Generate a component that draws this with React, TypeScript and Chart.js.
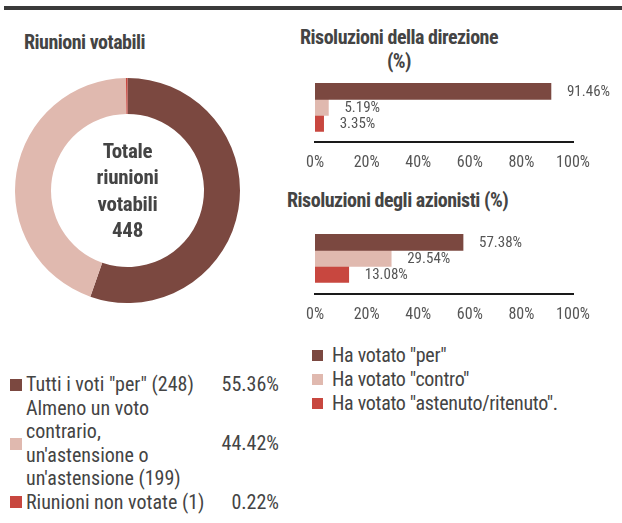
import React, { useEffect, useRef } from "react";
import { Chart, registerables } from "chart.js";

Chart.register(...registerables);

const FONT = '"Roboto Condensed", "Liberation Sans", sans-serif';
const TEXT = "#444444";

const colors = ["#7B4840", "#E0B9AF", "#C8473F"];

// Doughnut: "Riunioni votabili"
const donutTitle = "Riunioni votabili";
const donutCenterLines = ["Totale", "riunioni", "votabili", "448"];
const donutLegendLines: string[][] = [
  ['Tutti i voti "per" (248)'],
  ["Almeno un voto", "contrario,", "un'astensione o", "un'astensione (199)"],
  ["Riunioni non votate (1)"],
];
const donutValues = [55.36, 44.42, 0.22];

// Bar charts
const voteLabels = ['Ha votato "per"', 'Ha votato "contro"', 'Ha votato "astenuto/ritenuto".'];
const directionTitle = ["Risoluzioni della direzione", "(%)"];
const directionValues = [91.46, 5.19, 3.35];
const shareholderTitle = "Risoluzioni degli azionisti (%)";
const shareholderValues = [57.38, 29.54, 13.08];
const xTickLabels = ["0%", "20%", "40%", "60%", "80%", "100%"];

const valueLabelPlugin = {
  id: "valueLabels",
  afterDatasetsDraw(chart: any) {
    const ctx = chart.ctx;
    ctx.save();
    ctx.font = `15px ${FONT}`;
    ctx.fillStyle = "#555555";
    ctx.textAlign = "left";
    ctx.textBaseline = "middle";
    chart.data.datasets.forEach((ds: any, i: number) => {
      const meta = chart.getDatasetMeta(i);
      meta.data.forEach((bar: any, j: number) => {
        const v = ds.data[j];
        ctx.fillText(v.toFixed(2) + "%", bar.x + 16, bar.y + 1);
      });
    });
    ctx.restore();
  },
};

function BarChart({ values, height }: { values: number[]; height: number }) {
  const ref = useRef<HTMLCanvasElement>(null);
  useEffect(() => {
    const chart = new Chart(ref.current!, {
      type: "bar",
      data: {
        labels: [""],
        datasets: values.map((v, i) => ({
          label: voteLabels[i],
          data: [v],
          backgroundColor: colors[i],
          borderWidth: 0,
          barThickness: 16,
        })),
      },
      options: {
        indexAxis: "y",
        responsive: false,
        maintainAspectRatio: false,
        animation: false,
        layout: { padding: { left: 25, right: 49, top: 3, bottom: 0 } },
        plugins: { legend: { display: false }, tooltip: { enabled: false } },
        scales: {
          x: {
            min: 0,
            max: 100,
            ticks: {
              stepSize: 20,
              autoSkip: false,
              maxRotation: 0,
              padding: 12,
              color: "#555555",
              font: { size: 16, family: FONT },
              callback: (_v: any, i: number) => xTickLabels[i],
            },
            grid: { display: false, drawTicks: false },
            border: { display: true, color: "#1a1a1a", width: 2 },
          },
          y: { display: false },
        },
      } as any,
      plugins: [valueLabelPlugin],
    });
    return () => chart.destroy();
  }, []);
  return <canvas ref={ref} width={332} height={height} style={{ width: 332, height }} />;
}

function Donut() {
  const ref = useRef<HTMLCanvasElement>(null);
  useEffect(() => {
    const chart = new Chart(ref.current!, {
      type: "doughnut",
      data: {
        labels: donutLegendLines.map((l) => l.join(" ")),
        datasets: [
          {
            data: donutValues,
            backgroundColor: colors,
            borderWidth: 0,
          },
        ],
      },
      options: {
        responsive: false,
        maintainAspectRatio: false,
        animation: false,
        cutout: "68%",
        layout: { padding: 0 },
        plugins: { legend: { display: false }, tooltip: { enabled: false } },
      } as any,
    });
    return () => chart.destroy();
  }, []);
  return <canvas ref={ref} width={225} height={225} style={{ width: 225, height: 225 }} />;
}

export default function App() {
  const abs = (left: number, top: number, extra: any = {}) => ({
    position: "absolute" as const,
    left,
    top,
    ...extra,
  });
  return (
    <div
      style={{
        position: "fixed",
        left: 0,
        top: 0,
        width: 622,
        height: 523,
        background: "#fff",
        fontFamily: FONT,
        color: TEXT,
        overflow: "hidden",
      }}
    >
      <div style={abs(4, 6, { width: 618, height: 4, background: "#3a3a3a" })} />

      <div
        style={abs(24, 29, {
          fontSize: 20,
          fontWeight: "bold",
          lineHeight: "26px",
          letterSpacing: "-0.5px",
          whiteSpace: "nowrap",
        })}
      >
        {donutTitle}
      </div>

      <div style={abs(15, 78, { width: 225, height: 225 })}>
        <Donut />
      </div>
      <div
        style={abs(15, 78, {
          width: 225,
          height: 225,
          display: "flex",
          flexDirection: "column",
          alignItems: "center",
          justifyContent: "center",
          fontSize: 21,
          fontWeight: "bold",
          lineHeight: "26.5px",
          letterSpacing: "-0.3px",
          textAlign: "center",
        })}
      >
        {donutCenterLines.map((l, i) => (
          <div key={i}>{l}</div>
        ))}
      </div>

      <div style={abs(10, 373, { width: 269, fontSize: 20, lineHeight: "23.5px" })}>
        {donutLegendLines.map((lines, i) => (
          <div key={i} style={{ display: "flex", alignItems: "center" }}>
            <div style={{ width: 12, height: 12, background: colors[i], marginRight: 4, flexShrink: 0 }} />
            <div style={{ whiteSpace: "nowrap" }}>
              {lines.map((l, k) => (
                <div key={k}>{l}</div>
              ))}
            </div>
            <div style={{ marginLeft: "auto", whiteSpace: "nowrap" }}>{donutValues[i].toFixed(2)}%</div>
          </div>
        ))}
      </div>

      <div
        style={abs(299, 25, {
          width: 200,
          fontSize: 20,
          fontWeight: "bold",
          lineHeight: "24px",
          letterSpacing: "-0.5px",
          textAlign: "center",
          whiteSpace: "nowrap",
        })}
      >
        {directionTitle.map((l, i) => (
          <div key={i}>{l}</div>
        ))}
      </div>
      <div style={abs(290, 70, { width: 332, height: 115 })}>
        <BarChart values={directionValues} height={115} />
      </div>

      <div
        style={abs(287, 187, {
          fontSize: 20,
          fontWeight: "bold",
          lineHeight: "26px",
          letterSpacing: "-0.5px",
          whiteSpace: "nowrap",
        })}
      >
        {shareholderTitle}
      </div>
      <div style={abs(290, 220, { width: 332, height: 117 })}>
        <BarChart values={shareholderValues} height={117} />
      </div>

      <div style={abs(312, 343, { fontSize: 20, lineHeight: "24px", letterSpacing: "-0.3px" })}>
        {voteLabels.map((l, i) => (
          <div key={i} style={{ display: "flex", alignItems: "center", whiteSpace: "nowrap" }}>
            <div style={{ width: 11, height: 11, background: colors[i], marginRight: 9, flexShrink: 0 }} />
            <div>{l}</div>
          </div>
        ))}
      </div>
    </div>
  );
}
